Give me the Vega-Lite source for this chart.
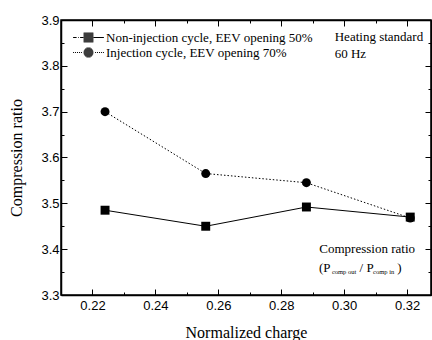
{
  "$schema": "https://vega.github.io/schema/vega-lite/v6.json",
  "width": 370,
  "height": 275,
  "autosize": "none",
  "padding": {"left": 61, "top": 20, "right": 1, "bottom": 45},
  "background": "white",
  "config": {
    "view": {"stroke": "black", "strokeWidth": 1.5},
    "axis": {
      "domainColor": "black", "domainWidth": 1.5, "tickColor": "black", "tickWidth": 1,
      "labelFont": "Liberation Sans", "labelFontSize": 13, "labelColor": "black",
      "titleFont": "Liberation Serif", "titleFontSize": 16, "titleFontWeight": "normal", "titleColor": "black",
      "grid": false
    }
  },
  "datasets": {
    "pts": [
      {"series": "Non-injection cycle, EEV opening 50%", "charge": 0.224, "ratio": 3.485},
      {"series": "Non-injection cycle, EEV opening 50%", "charge": 0.256, "ratio": 3.45},
      {"series": "Non-injection cycle, EEV opening 50%", "charge": 0.288, "ratio": 3.492},
      {"series": "Non-injection cycle, EEV opening 50%", "charge": 0.321, "ratio": 3.47},
      {"series": "Injection cycle, EEV opening 70%", "charge": 0.224, "ratio": 3.70},
      {"series": "Injection cycle, EEV opening 70%", "charge": 0.256, "ratio": 3.565},
      {"series": "Injection cycle, EEV opening 70%", "charge": 0.288, "ratio": 3.545},
      {"series": "Injection cycle, EEV opening 70%", "charge": 0.321, "ratio": 3.468}
    ],
    "notes": [
      {"x": 0.297, "y": 3.863, "t": "Heating standard"},
      {"x": 0.297, "y": 3.826, "t": "60 Hz"},
      {"x": 0.2921, "y": 3.400, "t": "Compression ratio"},
      {"x": 0.2920, "y": 3.359, "t": "(P"},
      {"x": 0.3049, "y": 3.359, "t": "/ P"},
      {"x": 0.3169, "y": 3.359, "t": ")"}
    ],
    "subs": [
      {"x": 0.2961, "y": 3.351, "t": "comp out"},
      {"x": 0.3092, "y": 3.351, "t": "comp in"}
    ]
  },
  "layer": [
    {
      "data": {"name": "pts"},
      "transform": [{"filter": "datum.series == 'Non-injection cycle, EEV opening 50%'"}],
      "mark": {"type": "line", "color": "black", "strokeWidth": 1},
      "encoding": {
        "x": {"field": "charge", "type": "quantitative", "scale": {"domain": [0.21, 0.3276], "nice": false, "zero": false},
              "axis": {"orient": "top", "labels": false, "title": null, "values": [0.22,0.23,0.24,0.25,0.26,0.27,0.28,0.29,0.30,0.31,0.32],
                       "tickSize": {"condition": {"test": "round(datum.value*100) % 2 == 0", "value": -6}, "value": -3}}},
        "y": {"field": "ratio", "type": "quantitative", "scale": {"domain": [3.3, 3.9], "nice": false, "zero": false},
              "axis": {"orient": "right", "labels": false, "title": null, "values": [3.3,3.35,3.4,3.45,3.5,3.55,3.6,3.65,3.7,3.75,3.8,3.85,3.9],
                       "tickSize": {"condition": {"test": "round(datum.value*100) % 10 == 0", "value": -6}, "value": -3}}}
      }
    },
    {
      "data": {"name": "pts"},
      "transform": [{"filter": "datum.series == 'Injection cycle, EEV opening 70%'"}],
      "mark": {"type": "line", "color": "black", "strokeWidth": 1, "strokeDash": [1.5, 2]},
      "encoding": {
        "x": {"field": "charge", "type": "quantitative", "scale": {"domain": [0.21, 0.3276], "nice": false, "zero": false}, "axis": null},
        "y": {"field": "ratio", "type": "quantitative", "scale": {"domain": [3.3, 3.9], "nice": false, "zero": false}, "axis": null}
      }
    },
    {
      "data": {"name": "pts"},
      "transform": [{"filter": "datum.series == 'Non-injection cycle, EEV opening 50%'"}],
      "mark": {"type": "point", "shape": "square", "filled": true, "color": "black", "opacity": 1, "size": 80},
      "encoding": {
        "x": {"field": "charge", "type": "quantitative", "scale": {"domain": [0.21, 0.3276], "nice": false, "zero": false},
              "axis": {"orient": "bottom", "title": "Normalized charge", "values": [0.22,0.23,0.24,0.25,0.26,0.27,0.28,0.29,0.30,0.31,0.32],
                       "labelExpr": "round(datum.value*100) % 2 == 0 ? format(datum.value, '.2f') : ''",
                       "tickSize": {"condition": {"test": "round(datum.value*100) % 2 == 0", "value": -6}, "value": -3},
                       "labelPadding": 10, "titlePadding": 12}},
        "y": {"field": "ratio", "type": "quantitative", "scale": {"domain": [3.3, 3.9], "nice": false, "zero": false},
              "axis": {"orient": "left", "title": "Compression ratio", "values": [3.3,3.35,3.4,3.45,3.5,3.55,3.6,3.65,3.7,3.75,3.8,3.85,3.9],
                       "labelExpr": "round(datum.value*100) % 10 == 0 ? format(datum.value, '.1f') : ''",
                       "tickSize": {"condition": {"test": "round(datum.value*100) % 10 == 0", "value": -6}, "value": -3},
                       "labelPadding": 8, "titlePadding": 16}}
      }
    },
    {
      "data": {"name": "pts"},
      "transform": [{"filter": "datum.series == 'Injection cycle, EEV opening 70%'"}],
      "mark": {"type": "point", "shape": "circle", "filled": true, "color": "black", "opacity": 1, "size": 80},
      "encoding": {
        "x": {"field": "charge", "type": "quantitative", "scale": {"domain": [0.21, 0.3276], "nice": false, "zero": false}, "axis": null},
        "y": {"field": "ratio", "type": "quantitative", "scale": {"domain": [3.3, 3.9], "nice": false, "zero": false}, "axis": null}
      }
    },
    {
      "data": {"name": "pts"},
      "transform": [{"filter": "false"}],
      "mark": {"type": "point", "filled": false, "color": "black", "strokeWidth": 1, "size": 196},
      "encoding": {
        "x": {"field": "charge", "type": "quantitative", "scale": {"domain": [0.21, 0.3276], "nice": false, "zero": false}, "axis": null},
        "y": {"field": "ratio", "type": "quantitative", "scale": {"domain": [3.3, 3.9], "nice": false, "zero": false}, "axis": null},
        "shape": {"field": "series", "type": "nominal",
                  "scale": {"domain": ["Non-injection cycle, EEV opening 50%", "Injection cycle, EEV opening 70%"],
                            "range": [
                              "M-2.2,0H-1.7M-1.5,0H-1.4M-1.2,0H-0.7M0.7,0H2.2M-0.7,-0.63H0.7M-0.7,-0.49H0.7M-0.7,-0.35H0.7M-0.7,-0.21H0.7M-0.7,-0.07H0.7M-0.7,0.07H0.7M-0.7,0.21H0.7M-0.7,0.35H0.7M-0.7,0.49H0.7M-0.7,0.63H0.7",
                              "M-2.2,0H-2.06M-1.92,0H-1.78M-1.64,0H-1.5M-1.36,0H-1.22M-1.08,0H-0.94M0.94,0H1.08M1.22,0H1.36M1.5,0H1.64M1.78,0H1.92M2.06,0H2.2M-0.305,-0.63H0.305M-0.5,-0.49H0.5M-0.606,-0.35H0.606M-0.668,-0.21H0.668M-0.697,-0.07H0.697M-0.697,0.07H0.697M-0.668,0.21H0.668M-0.606,0.35H0.606M-0.5,0.49H0.5M-0.305,0.63H0.305"
                            ]},
                  "legend": {
                    "orient": "none", "legendX": 20, "legendY": 10, "title": null, "padding": 0,
                    "symbolSize": 196, "symbolStrokeColor": "black", "symbolStrokeWidth": 1, "symbolOpacity": 1,
                    "labelFont": "Liberation Serif", "labelFontSize": 13, "labelColor": "black", "labelOffset": 10, "rowPadding": 0,
                    "labelLimit": 400
                  }}
      }
    },
    {
      "data": {"name": "notes"},
      "mark": {"type": "text", "font": "Liberation Serif", "fontSize": 13, "color": "black", "align": "left", "baseline": "middle"},
      "encoding": {
        "x": {"field": "x", "type": "quantitative", "scale": {"domain": [0.21, 0.3276], "nice": false, "zero": false}, "axis": null},
        "y": {"field": "y", "type": "quantitative", "scale": {"domain": [3.3, 3.9], "nice": false, "zero": false}, "axis": null},
        "text": {"field": "t"}
      }
    },
    {
      "data": {"name": "subs"},
      "mark": {"type": "text", "font": "Liberation Serif", "fontSize": 6.5, "color": "black", "align": "left", "baseline": "middle"},
      "encoding": {
        "x": {"field": "x", "type": "quantitative", "scale": {"domain": [0.21, 0.3276], "nice": false, "zero": false}, "axis": null},
        "y": {"field": "y", "type": "quantitative", "scale": {"domain": [3.3, 3.9], "nice": false, "zero": false}, "axis": null},
        "text": {"field": "t"}
      }
    }
  ],
  "resolve": {"axis": {"x": "independent", "y": "independent"}}
}
